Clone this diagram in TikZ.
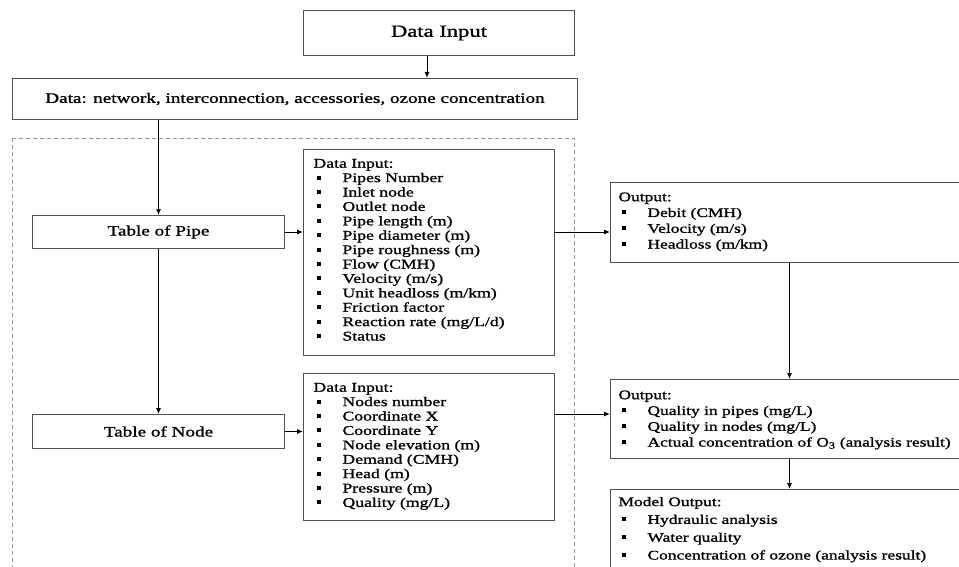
\documentclass[tikz,border=0pt]{standalone}
\usepackage{fontspec}
\setmainfont{Liberation Serif}[FakeStretch=1.33, FakeBold=1.2]
\usetikzlibrary{arrows.meta}
\definecolor{boxline}{RGB}{80,80,80}
\definecolor{dashgray}{RGB}{150,150,150}

\newcommand\sqbul{\makebox[29pt][l]{\hspace{3pt}\rule[2.6pt]{4pt}{4pt}}}
\newcommand\boxtext[4]{\parbox[c][#1][t]{#2}{\raggedright\vspace*{#3}#4}}

\tikzset{
  box/.style={draw=boxline, line width=1pt, fill=white, anchor=north west, inner sep=0pt},
  titlebox/.style={box, font=\fontsize{17}{20}\selectfont},
  tablebox/.style={box, font=\fontsize{14.4}{17}\selectfont},
  listbox/.style={box, inner xsep=10pt, font=\fontsize{13.3}{14.4}\selectfont},
  outbox/.style={box, inner xsep=8pt, font=\fontsize{13.1}{15.8}\selectfont},
  link/.style={-{Latex[length=6pt,width=5pt]}, line width=1pt},
  group/.style={draw=dashgray, line width=0.9pt, dash pattern=on 4pt off 3pt}
}

\begin{document}
\begin{tikzpicture}[x=1pt,y=-1pt]
        \useasboundingbox (0,0) rectangle (959,567);
        \clip (0,0) rectangle (959,567);
        \draw[group] (12,138) rectangle (574,600);
        \node[titlebox, minimum width=271pt, minimum height=45pt] (datain) at (303,10) {Data Input};
        \node[tablebox, minimum width=565pt, minimum height=41pt] (dataall) at (12,78) {Data: network, interconnection, accessories, ozone concentration};
        \node[tablebox, minimum width=252pt, minimum height=33pt] (tpipe) at (32,215) {Table of Pipe};
        \node[tablebox, minimum width=252pt, minimum height=34pt] (tnode) at (32,414) {Table of Node};
        \node[listbox] (pipein) at (303,149) {\boxtext{206pt}{231pt}{9.5pt}{Data Input:\\
            \sqbul Pipes Number\\
            \sqbul Inlet node\\
            \sqbul Outlet node\\
            \sqbul Pipe length (m)\\
            \sqbul Pipe diameter (m)\\
            \sqbul Pipe roughness (m)\\
            \sqbul Flow (CMH)\\
            \sqbul Velocity (m/s)\\
            \sqbul Unit headloss (m/km)\\
            \sqbul Friction factor\\
            \sqbul Reaction rate (mg/L/d)\\
            \sqbul Status}};
        \node[listbox] (nodein) at (303,373) {\boxtext{147pt}{231pt}{9.5pt}{Data Input:\\
            \sqbul Nodes number\\
            \sqbul Coordinate X\\
            \sqbul Coordinate Y\\
            \sqbul Node elevation (m)\\
            \sqbul Demand (CMH)\\
            \sqbul Head (m)\\
            \sqbul Pressure (m)\\
            \sqbul Quality (mg/L)}};
        \node[outbox] (out1) at (610,182) {\boxtext{80pt}{342pt}{10pt}{Output:\\
            \sqbul Debit (CMH)\\
            \sqbul Velocity (m/s)\\
            \sqbul Headloss (m/km)}};
        \node[outbox] (out2) at (610,379) {\boxtext{79pt}{342pt}{11pt}{Output:\\
            \sqbul Quality in pipes (mg/L)\\
            \sqbul Quality in nodes (mg/L)\\
            \sqbul Actual concentration of O\textsubscript{3} (analysis result)}};
        \node[outbox] (modelout) at (610,489) {\boxtext{100pt}{342pt}{7.5pt}{\fontsize{13.1}{17.8}\selectfont Model Output:\\
            \sqbul Hydraulic analysis\\
            \sqbul Water quality\\
            \sqbul Concentration of ozone (analysis result)}};
        \draw[link] ([xshift=-12pt]datain.south) -- ([xshift=-12pt]datain.south |- dataall.north);
        \draw[link] (dataall.south -| tpipe.north) -- (tpipe.north);
        \draw[link] (tpipe.south) -- (tnode.north);
        \draw[link] (tpipe.east) -- (tpipe.east -| pipein.west);
        \draw[link] (tnode.east) -- (tnode.east -| nodein.west);
        \draw[link] (tpipe.east -| pipein.east) -- (tpipe.east -| out1.west);
        \draw[link] ([yshift=-41pt]nodein.north east) -- ([yshift=-41pt]nodein.north east -| out2.west);
        \draw[link] (out1.south) -- (out2.north);
        \draw[link] (out2.south) -- (modelout.north);
\end{tikzpicture}
\end{document}
